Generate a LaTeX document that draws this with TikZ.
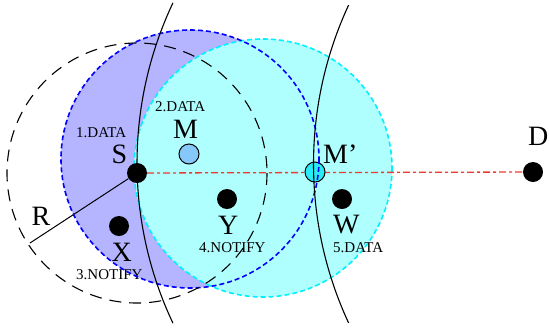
\documentclass[tikz,border=0pt]{standalone}
\usepackage{fontspec}
\setmainfont{Liberation Serif}
\pgfdeclarelayer{bg}
\pgfdeclarelayer{mid}
\pgfdeclarelayer{fg}
\pgfsetlayers{bg,mid,main,fg}
\definecolor{bluefill}{RGB}{180,180,255}
\definecolor{cyanfill}{RGB}{176,255,255}
\definecolor{bordblue}{RGB}{0,0,255}
\definecolor{bordcyan}{RGB}{0,240,255}
\definecolor{mfill}{RGB}{135,200,250}
\definecolor{mpfill}{RGB}{40,235,245}
\definecolor{redline}{RGB}{230,60,50}
\tikzset{
  dot/.style={circle,fill=black,minimum size=20bp,inner sep=0pt},
  ring/.style={circle,draw=black,line width=1bp,minimum size=20bp,inner sep=0pt},
  big/.style={anchor=base west,inner sep=0pt,font=\fontsize{28bp}{28bp}\selectfont},
  small/.style={anchor=base west,inner sep=0pt,font=\fontsize{15bp}{15bp}\selectfont},
  rangecirc/.style={line width=1.1bp,dash pattern=on 12bp off 8bp},
  cellcirc/.style={line width=1.6bp,dash pattern=on 5bp off 3bp},
  arcline/.style={line width=1.1bp},
}
\begin{document}
\begin{tikzpicture}[x=1bp,y=-1bp]
\useasboundingbox (0,0) rectangle (549,333);
% fills
\begin{pgfonlayer}{bg}
\fill[bluefill] (190,159) circle[radius=129];
\fill[cyanfill] (263,168) circle[radius=129];
\draw[bordcyan,cellcirc] (263,168) circle[radius=129];
\end{pgfonlayer}
% nodes
\node[dot] (S) at (137,173) {};
\node[dot] (D) at (533,172) {};
\node[ring,fill=mfill] (M) at (189,154) {};
\node[ring,fill=mpfill] (Mp) at (315,172) {};
\node[dot] (X) at (119,226) {};
\node[dot] (Y) at (227,199) {};
\node[dot] (W) at (342,199) {};
\coordinate (Rend) at (30,243);
% labels
\node[small] (l1) at (76,137) {1.DATA};
\node[big] (lS) at (111.5,163) {S};
\node[small] (l2) at (155,111) {2.DATA};
\node[big] (lM) at (173,138) {M};
\node[big] (lMp) at (323,163) {M’};
\node[big] (lD) at (528,145) {D};
\node[big] (lW) at (333,233) {W};
\node[small] (l5) at (333,252) {5.DATA};
\node[big] (lR) at (31.5,225.5) {R};
\node[big] (lX) at (111.5,261) {X};
\node[small] (l3) at (76,279) {3.NOTIFY};
\node[big] (lY) at (218,234) {Y};
\node[small] (l4) at (199,252) {4.NOTIFY};
% connectors
\begin{pgfonlayer}{mid}
\draw[redline,line width=1.3bp,dash pattern=on 7bp off 3bp on 3bp off 3bp] (S) -- (D);
\end{pgfonlayer}
\draw[line width=1bp] (S) -- (Rend);
\begin{pgfonlayer}{fg}
\draw[bordblue,cellcirc] (190,159) circle[radius=129];
\draw[black,rangecirc] (S.center) circle[radius=130];
\draw[arcline] (512,163) ++(205.3:375) arc[start angle=205.3,end angle=154.7,radius=375];
\draw[arcline] (691,164) ++(204.9:377.5) arc[start angle=204.9,end angle=155.1,radius=377.5];
\end{pgfonlayer}
\end{tikzpicture}
\end{document}
